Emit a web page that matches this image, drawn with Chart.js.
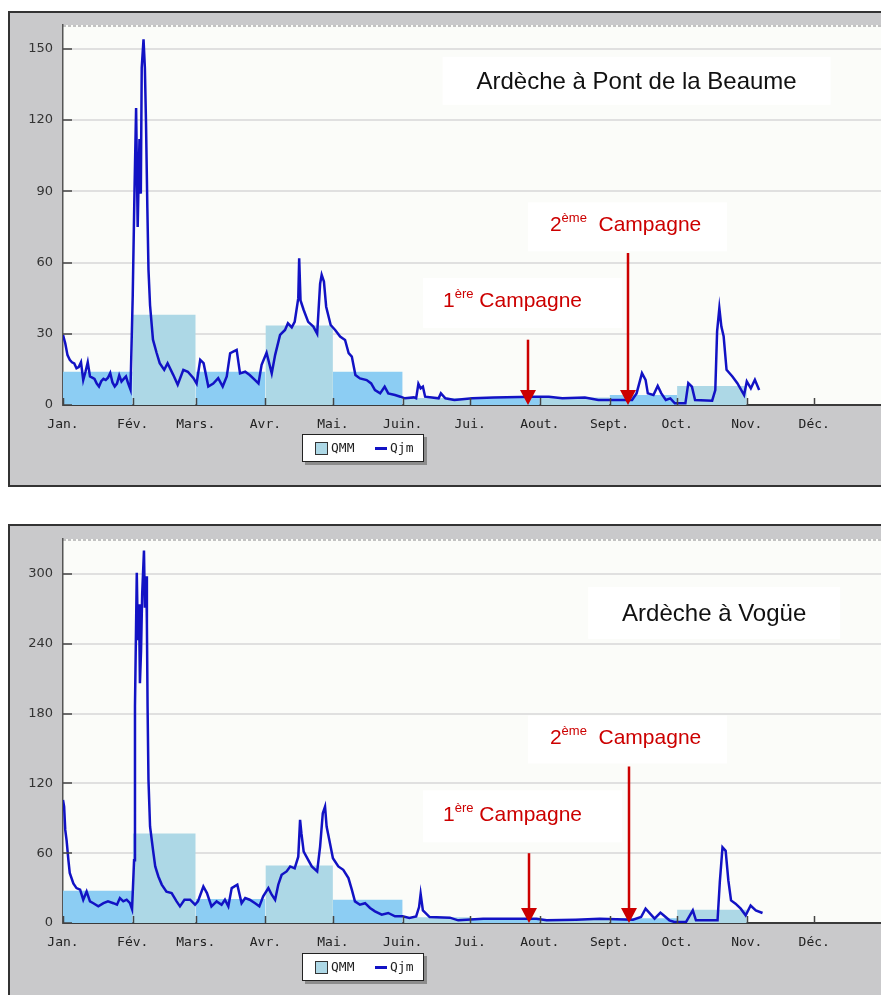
<!DOCTYPE html>
<html lang="fr">
<head>
<meta charset="utf-8">
<title>Ardèche - débits journaliers</title>
<script src="https://cdn.jsdelivr.net/npm/chart.js@4.4.1/dist/chart.umd.min.js"></script>
<style>
  html, body { margin: 0; padding: 0; background: #fff; width: 881px; height: 995px; overflow: hidden; }
  .frame { position: absolute; left: 8px; width: 900px; box-sizing: border-box; border: 2px solid #333; background: #c9c9cb; }
  #frameTop { top: 11px; height: 476px; }
  #frameBottom { top: 524px; height: 482px; }
  .frame canvas { display: block; }
  .legend { position: absolute; left: 292px; width: 122px; height: 28px; box-sizing: border-box;
            border: 1px solid #222; background: #fff; box-shadow: 3px 3px 0 #8c8c8c;
            font: 13px "DejaVu Sans Mono", monospace; color: #222; }
  .legend span { position: absolute; }
  .legend .swatch { left: 12px; top: 7px; width: 13px; height: 13px; box-sizing: border-box; background: #add8e6; border: 1px solid #333; }
  .legend .lbl { top: 0; line-height: 26px; }
  .legend .dash { left: 72px; top: 12px; width: 12px; height: 3px; background: #1212c4; }
</style>
</head>
<body>
<div class="frame" id="frameTop">
  <canvas id="chartPont" width="896" height="472"></canvas>
  <div class="legend" style="top:421px"><span class="swatch"></span><span class="lbl" style="left:28px">QMM</span><span class="dash"></span><span class="lbl" style="left:87px">Qjm</span></div>
</div>
<div class="frame" id="frameBottom">
  <canvas id="chartVogue" width="896" height="478"></canvas>
  <div class="legend" style="top:427px"><span class="swatch"></span><span class="lbl" style="left:28px">QMM</span><span class="dash"></span><span class="lbl" style="left:87px">Qjm</span></div>
</div>
<script>
// jours de l'annee (0 = 1er janvier) et libelles des mois
const monthStart = [0, 31, 59, 90, 120, 151, 181, 212, 243, 273, 304, 334];
const monthLabels = ['Jan.', 'Fév.', 'Mars.', 'Avr.', 'Mai.', 'Juin.', 'Jui.', 'Aout.', 'Sept.', 'Oct.', 'Nov.', 'Déc.'];
const yearEnd = 365;

// Ardèche à Pont de la Beaume
const qmmPont = [14, 38, 14, 33.5, 14, 3, 3.3, 3.2, 4.2, 8, 0, 0];
const daysPont = [0, 1, 2, 3, 4, 5, 6, 7, 8, 9, 10, 11, 12, 13, 14, 15, 16, 17, 18, 19, 20, 21, 22, 23, 24, 25, 26, 27, 28, 29, 30,
  31, 31.8, 32.5, 33.2, 34, 34.6, 35, 35.8, 36.4, 36.9, 37.5, 38, 38.7, 40, 41.6, 43, 45, 46.5, 49, 51, 53.5, 55.5, 58, 59.4,
  61, 62.5, 64.6, 66.8, 69, 71, 72.8, 74.3, 75.7, 77.2, 78.7, 81, 83, 85.4, 86.9, 88.3, 90.5, 92.8, 94.3, 96.5, 98.7, 100,
  101.7, 103, 104.6, 105, 105.6, 107, 109, 111.3, 113, 114.3, 115, 116, 117, 119, 121, 123.2, 125.4, 127, 128.4, 130, 132,
  135, 137, 138.7, 141, 143, 144.6, 147.6, 150, 152, 156, 157, 158, 159, 160, 161, 167, 168, 170, 174, 182, 191.5, 208.5,
  216, 222, 232, 238, 253, 255, 257.4, 259, 260, 262.5, 264.4, 266, 268, 270, 272, 276.7, 278, 279.6, 281, 288.6, 290,
  290.8, 291.8, 292.7, 293.7, 295, 297.6, 299.8, 302.8, 304, 305.8, 307.6, 309.5];
const qjmPont = [29.5, 26, 21, 19, 18, 17.5, 15.5, 16, 18, 10.5, 14, 18, 12, 11.5, 11, 9, 7.8, 10, 11, 10.5, 11.5, 13.5, 9.5, 7.8, 9, 12.5, 9.9, 11, 12, 9, 6.5,
  46, 91, 125, 75, 112, 89, 142, 154, 142, 119, 83, 57, 42, 27.5, 22, 17.6, 14.8, 17.6, 12.7, 8.5, 14.8, 14, 11.3, 9,
  19, 17.6, 7.8, 9, 11.3, 7.8, 12, 21.8, 22.5, 23.2, 13.3, 14, 12.6, 10.5, 9.1, 16.9, 22, 13.3, 21, 29.5, 31.6, 34.4,
  32.7, 35, 45, 61.8, 44, 40, 35, 33, 30, 51, 54.8, 52, 41.4, 33.7, 31.6, 28.8, 27.4, 21.8, 20.4, 12.6, 11.2,
  10.5, 9.1, 6.3, 4.9, 7.7, 4.9, 4.2, 3.5, 2.8, 3.2, 2.8, 8.9, 7, 7.7, 3.5, 2.8, 4.9, 2.8, 2.1, 2.8, 3.2, 3.5,
  3.5, 2.8, 3.2, 2.1, 2.1, 4.9, 13.4, 10.6, 4.9, 4.2, 8, 4.9, 2.1, 2.8, 0.7, 0.7, 9.2, 7.7, 2.1, 1.8, 6.3,
  31, 40.8, 33, 29, 14.8, 12, 9.2, 4.2, 9.9, 7, 10.6, 6.3];

// Ardèche à Vogüe
const qmmVogue = [27.7, 77, 20.6, 49.4, 20, 5, 4, 3.3, 4, 11.4, 0, 0];
const daysVogue = [0, 0.5, 1, 1.6, 2.4, 3, 4.6, 6, 7.6, 9, 10.5, 12, 13.5, 15.7, 18, 20, 22.4, 24, 25.3, 26.8, 28.3, 29.8, 30.7,
  31.6, 32, 32.8, 33.3, 33.8, 34.2, 34.7, 35.2, 36, 36.4, 37, 37.3, 37.6, 38, 38.7, 40, 41, 42.4, 43.9, 46, 48.3, 50.5, 52,
  54, 56.5, 58.7, 60, 62.4, 64, 66, 68.3, 70.5, 72, 73.5, 75, 77.5, 79.4, 81, 83, 85.4, 87.3, 89, 91.3, 92.8, 94.3, 95.7,
  97.2, 99.4, 101, 103, 104.6, 105.4, 106, 107, 109, 110.6, 113, 114.3, 115.5, 116.5, 117.2, 118.4, 120, 122.4, 124.6,
  126.9, 128.4, 129.8, 132, 134.3, 136.5, 138.7, 141.7, 144.6, 147.6, 151, 154, 157, 158.3, 159, 160, 163, 172, 175.7,
  186.8, 206, 210.5, 215, 228, 238.6, 253.4, 257, 259, 261, 263, 265.6, 267, 269.6, 271.8, 277, 280, 281.4, 291, 292,
  293.2, 294.6, 295.8, 297, 299, 301.3, 303.5, 305.7, 308, 311];
const qjmVogue = [105.7, 100, 80, 71, 54, 43, 34, 30, 28.6, 20, 27, 18.6, 17, 14.3, 17, 18.6, 17, 15.7, 21.4, 18.6, 20, 17, 12,
  54, 186, 301, 243, 274, 206, 234, 283, 320, 271, 298, 257, 186, 123, 83, 63, 48.6, 40, 33, 27, 25.7, 18.6, 14.3,
  20, 20, 15.7, 18.6, 31.4, 25.7, 14.3, 18.6, 15.7, 20, 14.3, 30, 32.9, 17, 21.4, 20, 17, 14.3, 22.9, 30, 24.3, 20, 32.9,
  41.4, 44.3, 48.6, 47, 57, 88.6, 77, 61.4, 54.3, 48.6, 44.3, 65.7, 94.3, 100, 82.9, 71.4, 55.7, 48.6, 45.7,
  38.6, 28.6, 18.6, 15.7, 17, 12.9, 10, 7.1, 8.6, 5.7, 5.7, 4.3, 5.7, 13.7, 25, 10.9, 5.1, 4.6, 2.3,
  3.7, 3.7, 3.7, 2.3, 2.9, 3.7, 2.9, 5.1, 12.3, 8, 3.7, 8.9, 6.6, 2.3, 0.9, 0.9, 10.9, 2.3, 2.3, 35,
  65, 62, 36.6, 19.4, 16.6, 12.3, 6.6, 15, 10.9, 8.6];

const skyBlue = '#8ccdf3';
const lightBlue = '#add8e6';
const qjmColor = '#1212c4';
const red = '#cc0000';

// fond de la zone de trace + bord superieur pointille
const plotBackground = {
    id: 'plotBackground',
    beforeDraw(chart) {
        const { ctx, chartArea: a } = chart;
        ctx.save();
        ctx.fillStyle = '#fbfcf9';
        ctx.fillRect(a.left, a.top, a.right - a.left, a.bottom - a.top);
        ctx.setLineDash([3, 2]);
        ctx.strokeStyle = '#c2c2c2';
        ctx.lineWidth = 2;
        ctx.beginPath();
        ctx.moveTo(a.left, a.top + 1);
        ctx.lineTo(a.right, a.top + 1);
        ctx.stroke();
        ctx.restore();
    }
};

// graduations tournees vers l'interieur
const innerTicks = {
    id: 'innerTicks',
    afterDatasetsDraw(chart) {
        const { ctx, chartArea: a, scales } = chart;
        ctx.save();
        ctx.strokeStyle = '#444';
        ctx.lineWidth = 1.5;
        ctx.beginPath();
        scales.x.ticks.forEach(t => {
            const px = Math.round(scales.x.getPixelForValue(t.value)) + 0.5;
            ctx.moveTo(px, a.bottom);
            ctx.lineTo(px, a.bottom - 7);
        });
        scales.y.ticks.forEach(t => {
            const py = Math.round(scales.y.getPixelForValue(t.value));
            ctx.moveTo(a.left, py);
            ctx.lineTo(a.left + 9, py);
        });
        ctx.stroke();
        ctx.restore();
    }
};

function drawRich(ctx, parts, cx, baseline, color) {
    const widths = parts.map(p => {
        ctx.font = p.size + 'px "Liberation Sans", Arial, sans-serif';
        return ctx.measureText(p.text).width;
    });
    let x = cx - widths.reduce((s, w) => s + w, 0) / 2;
    ctx.fillStyle = color;
    ctx.textBaseline = 'alphabetic';
    ctx.textAlign = 'left';
    parts.forEach((p, i) => {
        ctx.font = p.size + 'px "Liberation Sans", Arial, sans-serif';
        ctx.fillText(p.text, x, baseline - (p.rise || 0));
        x += widths[i];
    });
}

function notesPlugin(notes) {
    return {
        id: 'notes',
        afterDatasetsDraw(chart) {
            const { ctx } = chart;
            const xs = chart.scales.x, ys = chart.scales.y;
            ctx.save();
            notes.boxes.forEach(b => {
                const cx = xs.getPixelForValue(b.x);
                const cy = ys.getPixelForValue(b.y);
                ctx.fillStyle = '#ffffff';
                ctx.fillRect(cx - b.w / 2, cy - b.h / 2, b.w, b.h);
                drawRich(ctx, b.parts, cx + b.dx, cy + b.base, b.color);
            });
            notes.arrows.forEach(ar => {
                const px = Math.round(xs.getPixelForValue(ar.x));
                const top = ys.getPixelForValue(ar.from);
                const tip = ys.getPixelForValue(0);
                ctx.strokeStyle = red;
                ctx.lineWidth = 2.5;
                ctx.beginPath();
                ctx.moveTo(px, top);
                ctx.lineTo(px, tip - 14);
                ctx.stroke();
                ctx.fillStyle = red;
                ctx.beginPath();
                ctx.moveTo(px - 8, tip - 15);
                ctx.lineTo(px + 8, tip - 15);
                ctx.lineTo(px, tip);
                ctx.closePath();
                ctx.fill();
            });
            ctx.restore();
        }
    };
}

function campagne(num, sup) {
    return [
        { text: num, size: 21 },
        { text: sup, size: 13, rise: 9 },
        { text: (num === '1' ? ' ' : '  ') + 'Campagne', size: 21 }
    ];
}

function makeChart(canvasId, days, flows, qmm, yMax, yStep, padTop, xAxisHeight, notes) {
    const ctx = document.getElementById(canvasId).getContext('2d');
    const qmmPoints = monthStart.concat([yearEnd]).map((d, i) => ({ x: d, y: qmm[Math.min(i, qmm.length - 1)] }));

    return new Chart(ctx, {
        type: 'line',
        data: {
            datasets: [
                {
                    label: 'Qjm',
                    data: days.map((d, i) => ({ x: d, y: flows[i] })),
                    borderColor: qjmColor,
                    borderWidth: 2.5,
                    pointRadius: 0,
                    tension: 0,
                    fill: false,
                    order: 1
                },
                {
                    label: 'QMM',
                    data: qmmPoints,
                    stepped: true,
                    borderColor: 'rgba(0,0,0,0)',
                    borderWidth: 1,
                    pointRadius: 0,
                    fill: 'origin',
                    backgroundColor: skyBlue,
                    segment: {
                        backgroundColor: c => (c.p0DataIndex % 2 === 0 ? skyBlue : lightBlue)
                    },
                    order: 2
                }
            ]
        },
        options: {
            responsive: false,
            animation: false,
            events: [],
            layout: { padding: { top: padTop, right: 22, left: 0, bottom: 0 } },
            plugins: {
                legend: { display: false },
                tooltip: { enabled: false }
            },
            scales: {
                x: {
                    type: 'linear',
                    min: 0,
                    max: yearEnd,
                    grid: { display: false, drawTicks: false },
                    border: { display: true, color: '#3a3a3a', width: 2 },
                    ticks: {
                        autoSkip: false,
                        maxRotation: 0,
                        padding: 12,
                        color: '#222',
                        font: { family: 'DejaVu Sans Mono', size: 13 },
                        callback: (v, i) => monthLabels[i]
                    },
                    afterBuildTicks: s => { s.ticks = monthStart.map(v => ({ value: v })); },
                    afterFit: s => {
                        s.height = xAxisHeight;
                        s.paddingLeft = 0;
                        s.paddingRight = 0;
                    }
                },
                y: {
                    min: 0,
                    max: yMax,
                    grid: { color: '#e0e0e0', lineWidth: 2, drawTicks: false },
                    border: { display: true, color: '#555', width: 1.5 },
                    ticks: {
                        stepSize: yStep,
                        padding: 10,
                        color: '#333',
                        font: { family: 'DejaVu Sans', size: 13 }
                    },
                    afterBuildTicks: s => { s.ticks = s.ticks.filter(t => t.value % yStep === 0); },
                    afterFit: s => {
                        s.width = 53;
                        s.paddingTop = 0;
                        s.paddingBottom = 0;
                    }
                }
            }
        },
        plugins: [plotBackground, innerTicks, notesPlugin(notes)]
    });
}

makeChart('chartPont', daysPont, qjmPont, qmmPont, 160, 30, 12, 80, {
    boxes: [
        { x: 255, y: 136.5, w: 388, h: 48, dx: 0, base: 8, color: '#111',
          parts: [{ text: 'Ardèche à Pont de la Beaume', size: 24 }] },
        { x: 251, y: 75, w: 199, h: 49, dx: -2, base: 4, color: red, parts: campagne('2', 'ème') },
        { x: 204.3, y: 43, w: 199, h: 50, dx: -10, base: 4, color: red, parts: campagne('1', 'ère') }
    ],
    arrows: [
        { x: 206.8, from: 27.5 },
        { x: 251.2, from: 64 }
    ]
});

makeChart('chartVogue', daysVogue, qjmVogue, qmmVogue, 330, 60, 13, 81, {
    boxes: [
        { x: 289.5, y: 266.5, w: 252, h: 52, dx: 0, base: 8, color: '#111',
          parts: [{ text: 'Ardèche à Vogüe', size: 24 }] },
        { x: 251, y: 157.7, w: 199, h: 48, dx: -2, base: 5, color: red, parts: campagne('2', 'ème') },
        { x: 204.3, y: 91.7, w: 199, h: 52, dx: -10, base: 5, color: red, parts: campagne('1', 'ère') }
    ],
    arrows: [
        { x: 207.2, from: 60 },
        { x: 251.6, from: 134.5 }
    ]
});
</script>
</body>
</html>
